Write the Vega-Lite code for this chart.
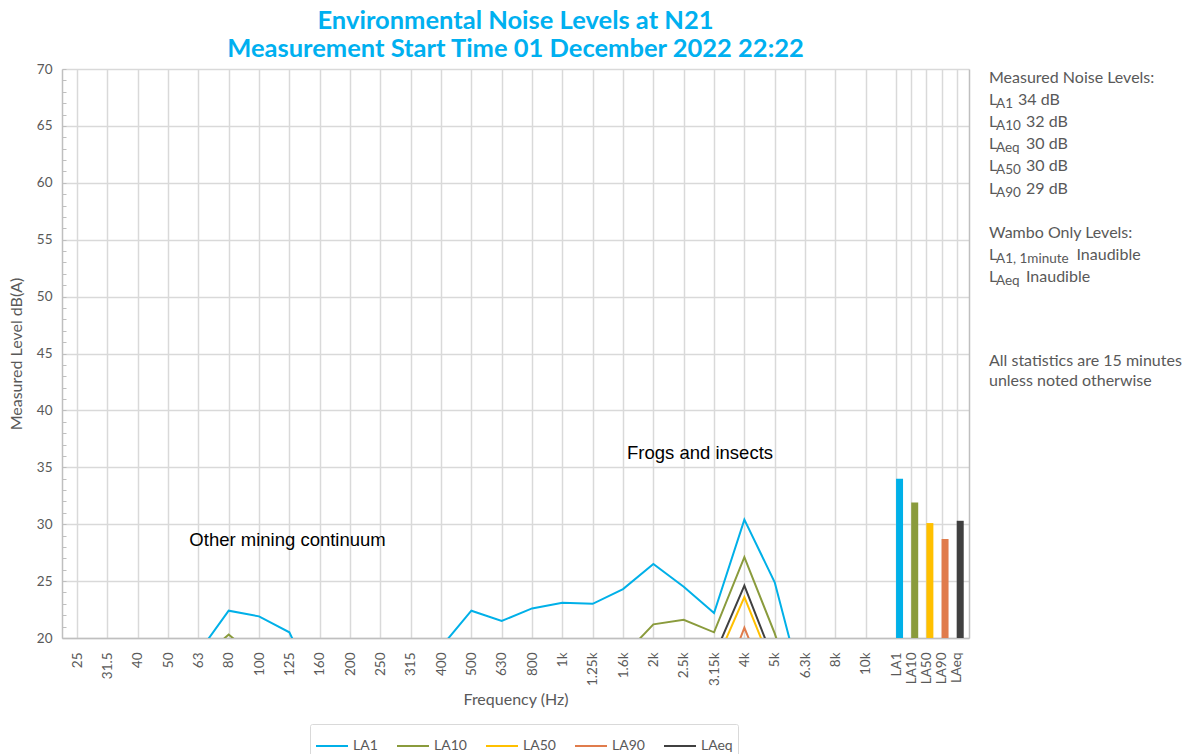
{
  "$schema": "https://vega.github.io/schema/vega-lite/v6.json",
  "background": "white",
  "padding": {"left": 8, "top": 8, "right": 0, "bottom": 0},
  "config": {
    "font": "Lato",
    "view": {"stroke": null},
    "axis": {"labelColor": "#595959", "titleColor": "#595959", "labelFont": "Lato", "titleFont": "Lato", "titleFontWeight": "normal"},
    "legend": {"labelFont": "Lato"}
  },
  "datasets": {
    "spectrum": [
      {"series":"LA1","band":"25","level":16.5},{"series":"LA1","band":"31.5","level":15.8},{"series":"LA1","band":"40","level":15.2},{"series":"LA1","band":"50","level":15.9},{"series":"LA1","band":"63","level":18.7},{"series":"LA1","band":"80","level":22.4},{"series":"LA1","band":"100","level":21.9},{"series":"LA1","band":"125","level":20.5},{"series":"LA1","band":"160","level":14.9},{"series":"LA1","band":"200","level":14.3},{"series":"LA1","band":"250","level":14.8},{"series":"LA1","band":"315","level":15.6},{"series":"LA1","band":"400","level":19.2},{"series":"LA1","band":"500","level":22.4},{"series":"LA1","band":"630","level":21.5},{"series":"LA1","band":"800","level":22.6},{"series":"LA1","band":"1k","level":23.1},{"series":"LA1","band":"1.25k","level":23.0},{"series":"LA1","band":"1.6k","level":24.3},{"series":"LA1","band":"2k","level":26.5},{"series":"LA1","band":"2.5k","level":24.5},{"series":"LA1","band":"3.15k","level":22.2},{"series":"LA1","band":"4k","level":30.4},{"series":"LA1","band":"5k","level":24.9},{"series":"LA1","band":"6.3k","level":14.7},{"series":"LA1","band":"8k","level":13.2},{"series":"LA1","band":"10k","level":11.8},
      {"series":"LA10","band":"25","level":14.2},{"series":"LA10","band":"31.5","level":13.8},{"series":"LA10","band":"40","level":13.5},{"series":"LA10","band":"50","level":14.4},{"series":"LA10","band":"63","level":18.0},{"series":"LA10","band":"80","level":20.3},{"series":"LA10","band":"100","level":18.1},{"series":"LA10","band":"125","level":16.9},{"series":"LA10","band":"160","level":13.1},{"series":"LA10","band":"200","level":12.6},{"series":"LA10","band":"250","level":13.0},{"series":"LA10","band":"315","level":13.8},{"series":"LA10","band":"400","level":15.2},{"series":"LA10","band":"500","level":16.8},{"series":"LA10","band":"630","level":16.1},{"series":"LA10","band":"800","level":16.9},{"series":"LA10","band":"1k","level":17.3},{"series":"LA10","band":"1.25k","level":17.6},{"series":"LA10","band":"1.6k","level":18.4},{"series":"LA10","band":"2k","level":21.2},{"series":"LA10","band":"2.5k","level":21.6},{"series":"LA10","band":"3.15k","level":20.5},{"series":"LA10","band":"4k","level":27.1},{"series":"LA10","band":"5k","level":20.4},{"series":"LA10","band":"6.3k","level":12.5},{"series":"LA10","band":"8k","level":11.0},{"series":"LA10","band":"10k","level":9.8},
      {"series":"LA50","band":"25","level":11.5},{"series":"LA50","band":"31.5","level":11.2},{"series":"LA50","band":"40","level":11.0},{"series":"LA50","band":"50","level":11.8},{"series":"LA50","band":"63","level":14.8},{"series":"LA50","band":"80","level":16.9},{"series":"LA50","band":"100","level":15.2},{"series":"LA50","band":"125","level":14.0},{"series":"LA50","band":"160","level":11.2},{"series":"LA50","band":"200","level":10.8},{"series":"LA50","band":"250","level":11.1},{"series":"LA50","band":"315","level":11.9},{"series":"LA50","band":"400","level":12.8},{"series":"LA50","band":"500","level":13.9},{"series":"LA50","band":"630","level":13.6},{"series":"LA50","band":"800","level":14.2},{"series":"LA50","band":"1k","level":14.6},{"series":"LA50","band":"1.25k","level":14.9},{"series":"LA50","band":"1.6k","level":15.5},{"series":"LA50","band":"2k","level":17.2},{"series":"LA50","band":"2.5k","level":17.9},{"series":"LA50","band":"3.15k","level":17.5},{"series":"LA50","band":"4k","level":23.6},{"series":"LA50","band":"5k","level":17.0},{"series":"LA50","band":"6.3k","level":10.9},{"series":"LA50","band":"8k","level":9.6},{"series":"LA50","band":"10k","level":8.5},
      {"series":"LA90","band":"25","level":10.2},{"series":"LA90","band":"31.5","level":9.9},{"series":"LA90","band":"40","level":9.7},{"series":"LA90","band":"50","level":10.4},{"series":"LA90","band":"63","level":13.2},{"series":"LA90","band":"80","level":15.1},{"series":"LA90","band":"100","level":13.6},{"series":"LA90","band":"125","level":12.4},{"series":"LA90","band":"160","level":9.8},{"series":"LA90","band":"200","level":9.5},{"series":"LA90","band":"250","level":9.8},{"series":"LA90","band":"315","level":10.5},{"series":"LA90","band":"400","level":11.3},{"series":"LA90","band":"500","level":12.1},{"series":"LA90","band":"630","level":11.9},{"series":"LA90","band":"800","level":12.4},{"series":"LA90","band":"1k","level":12.7},{"series":"LA90","band":"1.25k","level":12.9},{"series":"LA90","band":"1.6k","level":13.2},{"series":"LA90","band":"2k","level":13.6},{"series":"LA90","band":"2.5k","level":14.1},{"series":"LA90","band":"3.15k","level":14.0},{"series":"LA90","band":"4k","level":20.9},{"series":"LA90","band":"5k","level":14.4},{"series":"LA90","band":"6.3k","level":9.2},{"series":"LA90","band":"8k","level":8.1},{"series":"LA90","band":"10k","level":7.2},
      {"series":"LAeq","band":"25","level":13.4},{"series":"LAeq","band":"31.5","level":13.0},{"series":"LAeq","band":"40","level":12.7},{"series":"LAeq","band":"50","level":13.6},{"series":"LAeq","band":"63","level":16.5},{"series":"LAeq","band":"80","level":19.0},{"series":"LAeq","band":"100","level":17.2},{"series":"LAeq","band":"125","level":15.8},{"series":"LAeq","band":"160","level":12.3},{"series":"LAeq","band":"200","level":11.9},{"series":"LAeq","band":"250","level":12.2},{"series":"LAeq","band":"315","level":13.0},{"series":"LAeq","band":"400","level":14.4},{"series":"LAeq","band":"500","level":15.9},{"series":"LAeq","band":"630","level":15.3},{"series":"LAeq","band":"800","level":16.1},{"series":"LAeq","band":"1k","level":16.5},{"series":"LAeq","band":"1.25k","level":16.8},{"series":"LAeq","band":"1.6k","level":17.4},{"series":"LAeq","band":"2k","level":19.3},{"series":"LAeq","band":"2.5k","level":19.5},{"series":"LAeq","band":"3.15k","level":18.4},{"series":"LAeq","band":"4k","level":24.6},{"series":"LAeq","band":"5k","level":17.8},{"series":"LAeq","band":"6.3k","level":11.6},{"series":"LAeq","band":"8k","level":10.3},{"series":"LAeq","band":"10k","level":9.1}
    ],
    "stats": [
      {"series":"LA1","level":34.0},{"series":"LA10","level":31.9},{"series":"LA50","level":30.1},{"series":"LA90","level":28.7},{"series":"LAeq","level":30.3}
    ],
    "notes": [
      {"line":0,"head":"Measured Noise Levels:"},
      {"line":1,"head":"L","sub":"A1","rest":"34 dB"},
      {"line":2,"head":"L","sub":"A10","rest":"32 dB"},
      {"line":3,"head":"L","sub":"Aeq","rest":"30 dB"},
      {"line":4,"head":"L","sub":"A50","rest":"30 dB"},
      {"line":5,"head":"L","sub":"A90","rest":"29 dB"},
      {"line":7,"head":"Wambo Only Levels:"},
      {"line":8,"head":"L","sub":"A1, 1minute","rest":"Inaudible"},
      {"line":9,"head":"L","sub":"Aeq","rest":"Inaudible"},
      {"line":12.8,"head":"All statistics are 15 minutes"},
      {"line":13.7,"head":"unless noted otherwise"}
    ]
  },
  "spacing": 20,
  "resolve": {"scale": {"color": "independent"}},
  "hconcat": [
    {
      "width": 907,
      "height": 569,
      "title": {"text": ["Environmental Noise Levels at N21", "Measurement Start Time 01 December 2022 22:22"], "color": "#00B0F0", "font": "Lato", "fontSize": 25.5, "fontWeight": "bold", "lineHeight": 28, "anchor": "middle", "frame": "group", "offset": 0},
      "resolve": {"axis": {"y": "independent"}},
      "layer": [
        {
          "data": {"name": "spectrum"},
          "mark": {"type": "line", "clip": true, "strokeWidth": 2},
          "encoding": {
            "x": {
              "field": "band", "type": "ordinal",
              "scale": {"type": "point", "padding": 0.9, "align": 0.55,
                "domain": ["25","~25","31.5","~31.5","40","~40","50","~50","63","~63","80","~80","100","~100","125","~125","160","~160","200","~200","250","~250","315","~315","400","~400","500","~500","630","~630","800","~800","1k","~1k","1.25k","~1.25k","1.6k","~1.6k","2k","~2k","2.5k","~2.5k","3.15k","~3.15k","4k","~4k","5k","~5k","6.3k","~6.3k","8k","~8k","10k","~10k","LA1","LA10","LA50","LA90","LAeq"]},
              "axis": {
                "title": "Frequency (Hz)",
                "values": ["25","31.5","40","50","63","80","100","125","160","200","250","315","400","500","630","800","1k","1.25k","1.6k","2k","2.5k","3.15k","4k","5k","6.3k","8k","10k","LA1","LA10","LA50","LA90","LAeq"],
                "labelAngle": -90, "labelAlign": "right", "labelBaseline": "middle", "labelFontSize": 13.5, "labelPadding": 14,
                "ticks": false, "grid": true, "gridColor": "#D9D9D9", "gridWidth": 1.5,
                "domainColor": "#BFBFBF", "domainWidth": 1.5,
                "titleFontSize": 16, "titlePadding": 6
              }
            },
            "y": {
              "field": "level", "type": "quantitative",
              "scale": {"domain": [20, 70], "nice": false, "zero": false},
              "axis": {
                "orient": "left", "title": "Measured Level dB(A)", "titleFontSize": 16, "titlePadding": 12,
                "values": [20,21,22,23,24,25,26,27,28,29,30,31,32,33,34,35,36,37,38,39,40,41,42,43,44,45,46,47,48,49,50,51,52,53,54,55,56,57,58,59,60,61,62,63,64,65,66,67,68,69,70],
                "labelExpr": "datum.value % 5 === 0 ? datum.label : ''",
                "labelFontSize": 13.5, "labelPadding": 14,
                "tickSize": -4, "tickColor": "#BFBFBF", "tickWidth": 1,
                "grid": false, "domainColor": "#BFBFBF", "domainWidth": 1.5
              }
            },
            "color": {
              "field": "series", "type": "nominal",
              "scale": {"domain": ["LA1","LA10","LA50","LA90","LAeq"], "range": ["#00B0E8","#8A9B3C","#FFC000","#E07C4C","#404040"]},
              "legend": {"orient": "none", "legendX": 248, "legendY": 655, "direction": "horizontal", "title": null, "symbolType": "stroke", "symbolSize": 1024, "symbolStrokeWidth": 2, "labelFontSize": 14, "labelColor": "#595959", "strokeColor": "#D9D9D9", "padding": 5, "cornerRadius": 2, "columnPadding": 15, "labelOffset": 4}
            },
            "order": {"value": null}
          }
        },
        {
          "data": {"name": "stats"},
          "mark": {"type": "bar", "size": 7, "xOffset": 3.5},
          "encoding": {
            "x": {"field": "series", "type": "ordinal", "axis": {"title": "Frequency (Hz)"}},
            "y": {
              "field": "level", "type": "quantitative",
              "axis": {"orient": "right", "title": null, "labels": false, "ticks": false, "grid": true, "gridColor": "#D9D9D9", "gridWidth": 1.5, "domainColor": "#BFBFBF", "domainWidth": 1.5, "values": [20,25,30,35,40,45,50,55,60,65,70]}
            },
            "y2": {"datum": 20},
            "color": {"field": "series", "type": "nominal", "legend": null}
          }
        },
        {
          "data": {"values": [{"note": "Other mining continuum", "band": "63", "level": 28.6}]},
          "mark": {"type": "text", "font": "Liberation Sans", "fontSize": 18.5, "color": "#000000", "align": "left", "baseline": "middle", "dx": -9},
          "encoding": {
            "x": {"field": "band", "type": "ordinal", "axis": {"title": "Frequency (Hz)"}},
            "y": {"field": "level", "type": "quantitative", "axis": null},
            "text": {"field": "note"}
          }
        },
        {
          "data": {"values": [{"note": "Frogs and insects", "band": "1.6k", "level": 36.3}]},
          "mark": {"type": "text", "font": "Liberation Sans", "fontSize": 18.5, "color": "#000000", "align": "left", "baseline": "middle", "dx": 4},
          "encoding": {
            "x": {"field": "band", "type": "ordinal", "axis": {"title": "Frequency (Hz)"}},
            "y": {"field": "level", "type": "quantitative", "axis": null},
            "text": {"field": "note"}
          }
        }
      ]
    },
    {
      "width": 195,
      "height": 569,
      "data": {"name": "notes"},
      "encoding": {
        "x": {"datum": 0, "type": "quantitative", "scale": {"domain": [0, 1]}, "axis": null},
        "y": {"field": "line", "type": "quantitative", "scale": {"domain": [-0.41, 25.34], "reverse": true, "nice": false, "zero": false}, "axis": null}
      },
      "layer": [
        {
          "mark": {"type": "text", "align": "left", "baseline": "middle", "fontSize": 16, "color": "#595959", "font": "Lato"},
          "encoding": {"text": {"field": "head"}}
        },
        {
          "transform": [{"filter": "datum.sub != null"}],
          "mark": {"type": "text", "align": "left", "baseline": "middle", "fontSize": 13.5, "color": "#595959", "font": "Lato", "dx": 7, "dy": 4},
          "encoding": {"text": {"field": "sub"}}
        },
        {
          "transform": [{"filter": "datum.sub === 'A1'"}],
          "mark": {"type": "text", "align": "left", "baseline": "middle", "fontSize": 16, "color": "#595959", "font": "Lato", "dx": 29},
          "encoding": {"text": {"field": "rest"}}
        },
        {
          "transform": [{"filter": "datum.sub === 'A10' || datum.sub === 'Aeq' || datum.sub === 'A50' || datum.sub === 'A90'"}],
          "mark": {"type": "text", "align": "left", "baseline": "middle", "fontSize": 16, "color": "#595959", "font": "Lato", "dx": 37},
          "encoding": {"text": {"field": "rest"}}
        },
        {
          "transform": [{"filter": "datum.sub === 'A1, 1minute'"}],
          "mark": {"type": "text", "align": "left", "baseline": "middle", "fontSize": 16, "color": "#595959", "font": "Lato", "dx": 87.5},
          "encoding": {"text": {"field": "rest"}}
        }
      ]
    }
  ]
}
